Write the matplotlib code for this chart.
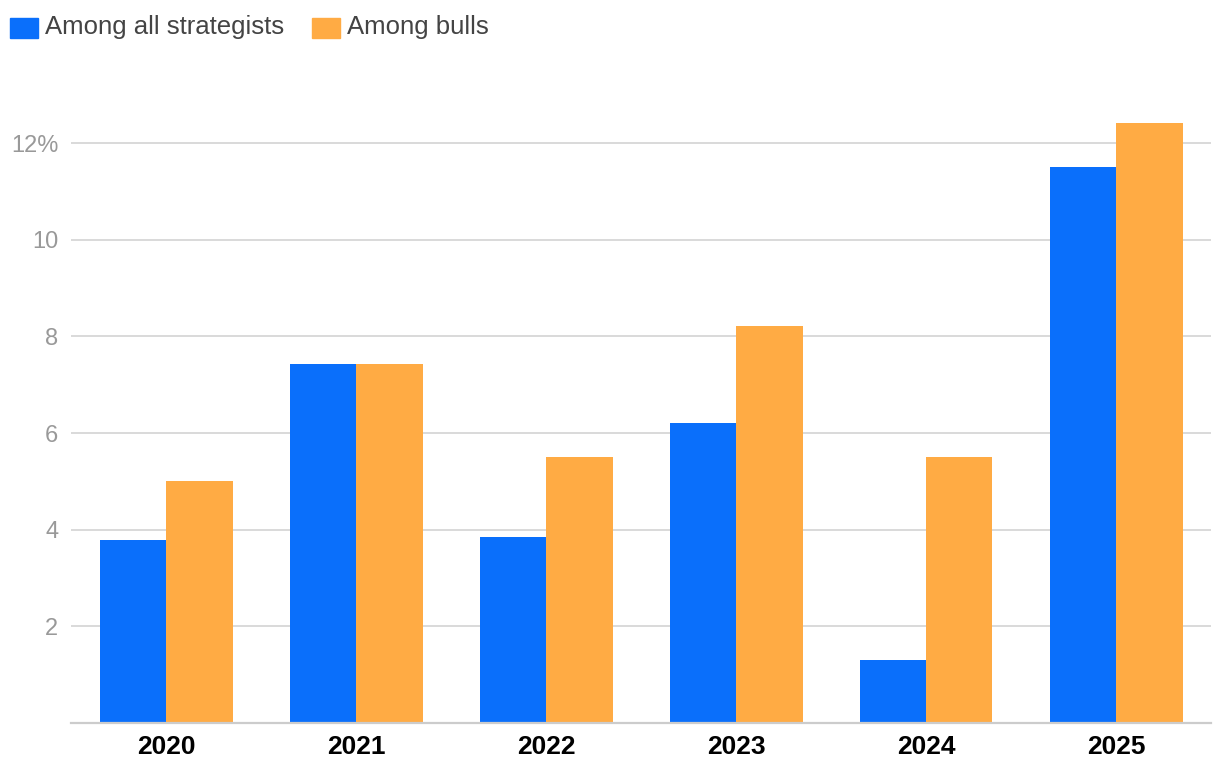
import matplotlib
matplotlib.use("Agg")
import matplotlib.pyplot as plt
import numpy as np
from matplotlib.patches import Rectangle

plt.rcParams["font.family"] = ["Liberation Sans", "DejaVu Sans"]

years = ["2020", "2021", "2022", "2023", "2024", "2025"]
all_strategists = [3.79, 7.43, 3.85, 6.21, 1.30, 11.50]
bulls = [5.01, 7.43, 5.50, 8.21, 5.50, 12.41]
series_names = ["Among all strategists", "Among bulls"]
colors = ["#0a6ffb", "#ffab44"]
y_ticks = [2, 4, 6, 8, 10, 12]
y_labels = ["2", "4", "6", "8", "10", "12%"]

fig = plt.figure(figsize=(12.2, 7.76), dpi=100)
ax = fig.add_axes([71 / 1220, 53 / 776, 1140 / 1220, 623 / 776])

x = np.arange(len(years))
w = 0.35
ax.bar(x - w / 2, all_strategists, width=w, color=colors[0], zorder=3)
ax.bar(x + w / 2, bulls, width=w, color=colors[1], zorder=3)

ax.set_xlim(-0.5, len(years) - 0.5)
ax.set_ylim(0, 623 / 48.33)
ax.set_yticks(y_ticks)
ax.set_yticklabels(y_labels)
ax.set_xticks(x)
ax.set_xticklabels(years)
for t in ax.get_xticklabels():
    t.set_fontweight("bold")
ax.tick_params(axis="x", length=0, pad=9, labelsize=19, labelcolor="black")
ax.tick_params(axis="y", length=0, pad=9, labelsize=17, labelcolor="#999999")
ax.grid(axis="y", color="#d9d9d9", linewidth=1.4, zorder=0)
for side in ("top", "right", "left"):
    ax.spines[side].set_visible(False)
ax.spines["bottom"].set_color("#cccccc")
ax.spines["bottom"].set_linewidth(1.6)
ax.spines["bottom"].set_zorder(4)

# legend drawn at the top left
legend_x = [10, 312]
for lx, name, c in zip(legend_x, series_names, colors):
    fig.add_artist(Rectangle((lx / 1220, 1 - 38 / 776), 28 / 1220, 20 / 776,
                             transform=fig.transFigure, color=c))
    fig.text((lx + 35) / 1220, 1 - 27 / 776, name, fontsize=18.5, color="#444444",
             va="center", ha="left")

fig.savefig("out.png", dpi=100)
